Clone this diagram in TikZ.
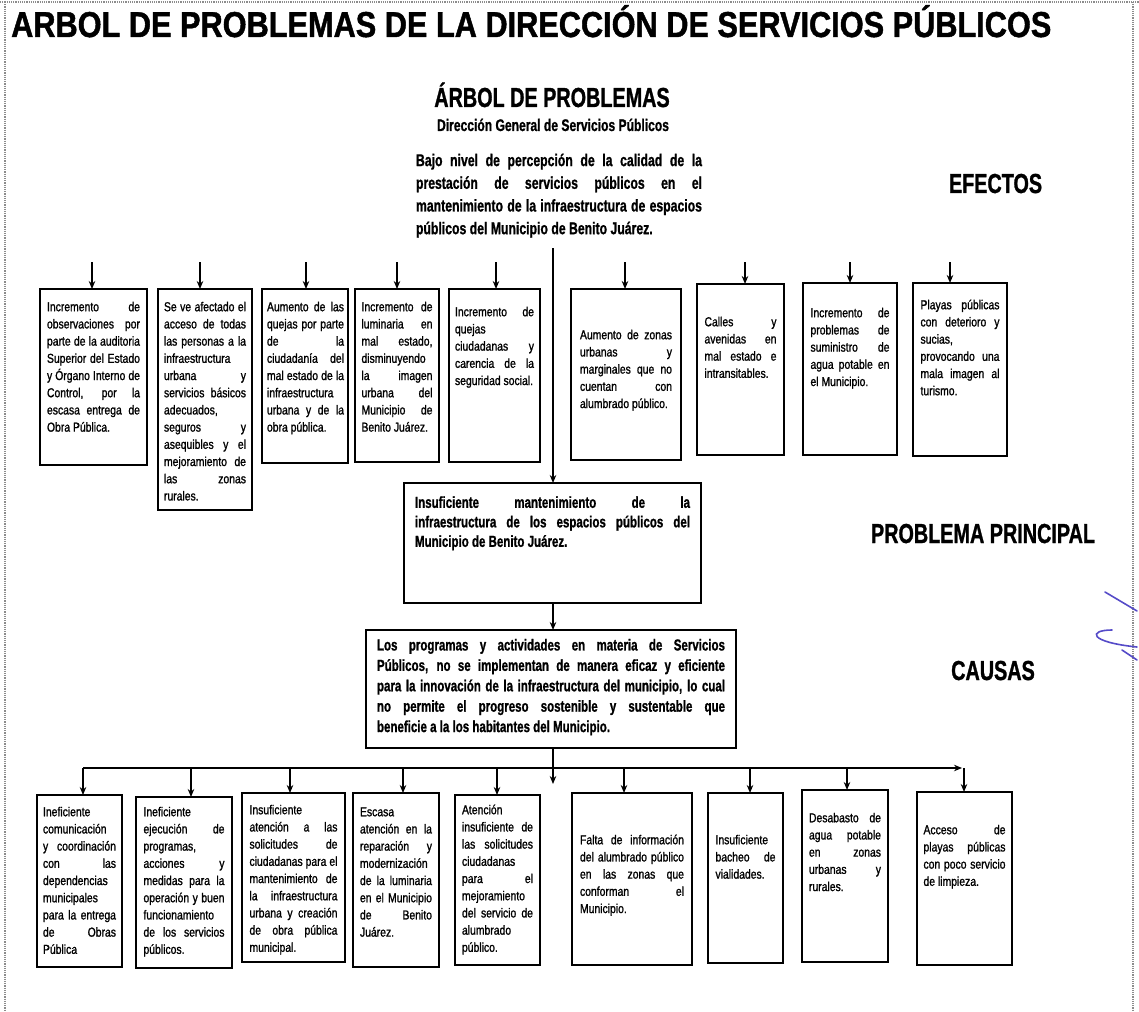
\documentclass[tikz,border=0pt]{standalone}
\usepackage{fontspec}
\setmainfont{Liberation Sans}
\newfontfamily\nrw[FakeStretch=0.8,FakeBold=1.2]{Liberation Sans}
\newfontfamily\hbf[FakeStretch=0.72,FakeBold=1.0]{Liberation Sans}
\newfontfamily\tbf[FakeStretch=0.853,FakeBold=1.2]{Liberation Sans}
\usetikzlibrary{arrows.meta}
\hyphenpenalty=10000
\exhyphenpenalty=10000
\tolerance=10000
\hfuzz=3pt
\tikzset{
  boxst/.style={draw=black, line width=1.6pt, inner sep=0pt, outer sep=0pt},
  smalltxt/.style={font=\fontsize{13}{17.2}\selectfont\nrw, align=justify, inner sep=0pt, anchor=north},
  bigtxt/.style={font=\fontsize{16}{#1}\selectfont\hbf\bfseries, align=justify, inner sep=0pt, anchor=north},
  hdr/.style={font=\fontsize{27.5}{30}\selectfont\hbf\bfseries, inner sep=0pt, anchor=base},
  conn/.style={line width=1.5pt, -{Stealth[length=8pt,width=6.5pt]}},
  plain/.style={line width=1.5pt},
  frame/.style={draw=black!45, line width=1.2pt, densely dotted},
  pen/.style={draw={rgb,255:red,85;green,75;blue,200}, line width=1.6pt, line cap=round}
}
\begin{document}
\begin{tikzpicture}[x=1pt, y=-1pt]
\useasboundingbox (0,0) rectangle (1139,1011);
% page frame
\draw[frame] (0,2) -- (1139,2);
\draw[frame] (5,2) -- (5,1011);
\draw[frame] (1133,2) -- (1133,1011);
% pen marks
\draw[pen] (1105,592) -- (1137,611);
\draw[pen] (1112,630) .. controls (1088,630) and (1088,642) .. (1137,647);
\draw[pen] (1122,650) -- (1137,660);

% titles
\node[anchor=base west, font=\fontsize{36}{40}\selectfont\tbf\bfseries, inner sep=0pt] (title) at (11,37) {ARBOL DE PROBLEMAS DE LA DIRECCIÓN DE SERVICIOS PÚBLICOS};
\node[hdr] (arbol) at (552,107) {ÁRBOL DE PROBLEMAS};
\node[anchor=base, font=\fontsize{16.8}{20}\selectfont\hbf\bfseries, inner sep=0pt] (dir) at (553,131) {Dirección General de Servicios Públicos};
\node[font=\fontsize{17}{22.7}\selectfont\hbf\bfseries, align=justify, inner sep=0pt, anchor=north, text width=286pt] (bajo) at (559,150)
{\strut Bajo nivel de percepción de la calidad de la\linebreak prestación de servicios públicos en el\linebreak mantenimiento de la infraestructura de espacios\linebreak públicos del Municipio de Benito Juárez.};
\node[hdr] (efectos) at (995.5,193) {EFECTOS};
\node[hdr] (pp) at (983,543) {PROBLEMA PRINCIPAL};
\node[hdr] (causas) at (993,680) {CAUSAS};

% effect boxes
\node[boxst, minimum width=107pt, minimum height=176pt] (e1) at (93.5,377) {};
\node[smalltxt, text width=93pt] (e1t) at (93.5,299) {\strut Incremento de\linebreak observaciones por\linebreak parte de la auditoria\linebreak Superior del Estado\linebreak y Órgano Interno de\linebreak Control, por la\linebreak escasa entrega de\linebreak Obra Pública.};
\node[boxst, minimum width=94pt, minimum height=221pt] (e2) at (205,399.5) {};
\node[smalltxt, text width=82pt] (e2t) at (205,299) {\strut Se ve afectado el\linebreak acceso de todas\linebreak las personas a la\linebreak infraestructura\linebreak urbana y\linebreak servicios básicos\linebreak adecuados,\linebreak seguros y\linebreak asequibles y el\linebreak mejoramiento de\linebreak las zonas\linebreak rurales.};
\node[boxst, minimum width=86pt, minimum height=174pt] (e3) at (305,376) {};
\node[smalltxt, text width=77pt] (e3t) at (305.5,299) {\strut Aumento de las\linebreak quejas por parte\linebreak de la\linebreak ciudadanía del\linebreak mal estado de la\linebreak infraestructura\linebreak urbana y de la\linebreak obra pública.};
\node[boxst, minimum width=84pt, minimum height=173pt] (e4) at (397,375.5) {};
\node[smalltxt, text width=71pt] (e4t) at (397,299) {\strut Incremento de\linebreak luminaria en\linebreak mal estado,\linebreak disminuyendo\linebreak la imagen\linebreak urbana del\linebreak Municipio de\linebreak Benito Juárez.};
\node[boxst, minimum width=91pt, minimum height=173pt] (e5) at (494.5,375.5) {};
\node[smalltxt, text width=79pt] (e5t) at (494.5,304) {\strut Incremento de\linebreak quejas\linebreak ciudadanas y\linebreak carencia de la\linebreak seguridad social.};
\node[boxst, minimum width=110pt, minimum height=171pt] (e6) at (626,374.5) {};
\node[smalltxt, text width=92pt] (e6t) at (626,327) {\strut Aumento de zonas\linebreak urbanas y\linebreak marginales que no\linebreak cuentan con\linebreak alumbrado público.};
\node[boxst, minimum width=87pt, minimum height=171pt] (e7) at (740.5,369.5) {};
\node[smalltxt, text width=72pt] (e7t) at (740.5,314) {\strut Calles y\linebreak avenidas en\linebreak mal estado e\linebreak intransitables.};
\node[boxst, minimum width=94pt, minimum height=172pt] (e8) at (850,369) {};
\node[smalltxt, text width=79pt] (e8t) at (850,305) {\strut Incremento de\linebreak problemas de\linebreak suministro de\linebreak agua potable en\linebreak el Municipio.};
\node[boxst, minimum width=94pt, minimum height=173pt] (e9) at (960,369.5) {};
\node[smalltxt, text width=79pt] (e9t) at (960,297) {\strut Playas públicas\linebreak con deterioro y\linebreak sucias,\linebreak provocando una\linebreak mala imagen al\linebreak turismo.};

% effect arrows
\foreach \i/\xx in {1/92,2/200,3/306,4/397,5/496,6/625,7/745,8/850,9/950}{
  \coordinate (ea\i) at (\xx,262);
  \draw[conn] (ea\i) -- (ea\i |- e\i.north);
}

% main problem
\node[boxst, minimum width=297pt, minimum height=120pt] (prob) at (552.5,543) {};
\node[bigtxt=19.5, text width=275pt] (probt) at (552.5,494) {\strut Insuficiente mantenimiento de la\linebreak infraestructura de los espacios públicos del\linebreak Municipio de Benito Juárez.};
\coordinate (top) at (553,248);
\draw[conn] (top) -- (top |- prob.north);

% causes main box
\node[boxst, minimum width=370pt, minimum height=118pt] (cau) at (551,689) {};
\node[bigtxt=20.4, text width=348pt] (caut) at (551,636) {\strut Los programas y actividades en materia de Servicios\linebreak Públicos, no se implementan de manera eficaz y eficiente\linebreak para la innovación de la infraestructura del municipio, lo cual\linebreak no permite el progreso sostenible y sustentable que\linebreak beneficie a la los habitantes del Municipio.};
\draw[conn] (prob.south -| 553,0) -- (cau.north -| 553,0);

% cause boxes
\node[boxst, minimum width=85pt, minimum height=172pt] (c1) at (79.5,881) {};
\node[smalltxt, text width=73pt] (c1t) at (79.5,804) {\strut Ineficiente\linebreak comunicación\linebreak y coordinación\linebreak con las\linebreak dependencias\linebreak municipales\linebreak para la entrega\linebreak de Obras\linebreak Pública};
\node[boxst, minimum width=96pt, minimum height=171pt] (c2) at (184,882.5) {};
\node[smalltxt, text width=81pt] (c2t) at (184,804) {\strut Ineficiente\linebreak ejecución de\linebreak programas,\linebreak acciones y\linebreak medidas para la\linebreak operación y buen\linebreak funcionamiento\linebreak de los servicios\linebreak públicos.};
\node[boxst, minimum width=103pt, minimum height=169pt] (c3) at (293.5,877.5) {};
\node[smalltxt, text width=88pt] (c3t) at (293.5,802) {\strut Insuficiente\linebreak atención a las\linebreak solicitudes de\linebreak ciudadanas para el\linebreak mantenimiento de\linebreak la infraestructura\linebreak urbana y creación\linebreak de obra pública\linebreak municipal.};
\node[boxst, minimum width=86pt, minimum height=174pt] (c4) at (396,880) {};
\node[smalltxt, text width=72pt] (c4t) at (396,804) {\strut Escasa\linebreak atención en la\linebreak reparación y\linebreak modernización\linebreak de la luminaria\linebreak en el Municipio\linebreak de Benito\linebreak Juárez.};
\node[boxst, minimum width=85pt, minimum height=170pt] (c5) at (497.5,880) {};
\node[smalltxt, text width=71pt] (c5t) at (497.5,802) {\strut Atención\linebreak insuficiente de\linebreak las solicitudes\linebreak ciudadanas\linebreak para el\linebreak mejoramiento\linebreak del servicio de\linebreak alumbrado\linebreak público.};
\node[boxst, minimum width=120pt, minimum height=172pt] (c6) at (632,879) {};
\node[smalltxt, text width=104pt] (c6t) at (632,832) {\strut Falta de información\linebreak del alumbrado público\linebreak en las zonas que\linebreak conforman el\linebreak Municipio.};
\node[boxst, minimum width=75pt, minimum height=170pt] (c7) at (745.5,878) {};
\node[smalltxt, text width=60pt] (c7t) at (745.5,832) {\strut Insuficiente\linebreak bacheo de\linebreak vialidades.};
\node[boxst, minimum width=86pt, minimum height=172pt] (c8) at (845,876) {};
\node[smalltxt, text width=72pt] (c8t) at (845,810) {\strut Desabasto de\linebreak agua potable\linebreak en zonas\linebreak urbanas y\linebreak rurales.};
\node[boxst, minimum width=95pt, minimum height=173pt] (c9) at (964.5,878.5) {};
\node[smalltxt, text width=82pt] (c9t) at (964.5,822) {\strut Acceso de\linebreak playas públicas\linebreak con poco servicio\linebreak de limpieza.};

% cause connectors
\coordinate (bl) at (83,768);
\coordinate (br) at (962,768);
\coordinate (cend) at (553,784);
\draw[conn] (cau.south -| cend) -- (cend);
\draw[plain, -{Stealth[length=8pt,width=6.5pt]}] (bl) -- (br);
\foreach \i/\xx in {1/83,2/191,3/290,4/403,5/497,6/624,7/750,8/847,9/964}{
  \coordinate (ca\i) at (\xx,768);
  \draw[conn] (ca\i) -- (ca\i |- c\i.north);
}
\end{tikzpicture}
\end{document}
